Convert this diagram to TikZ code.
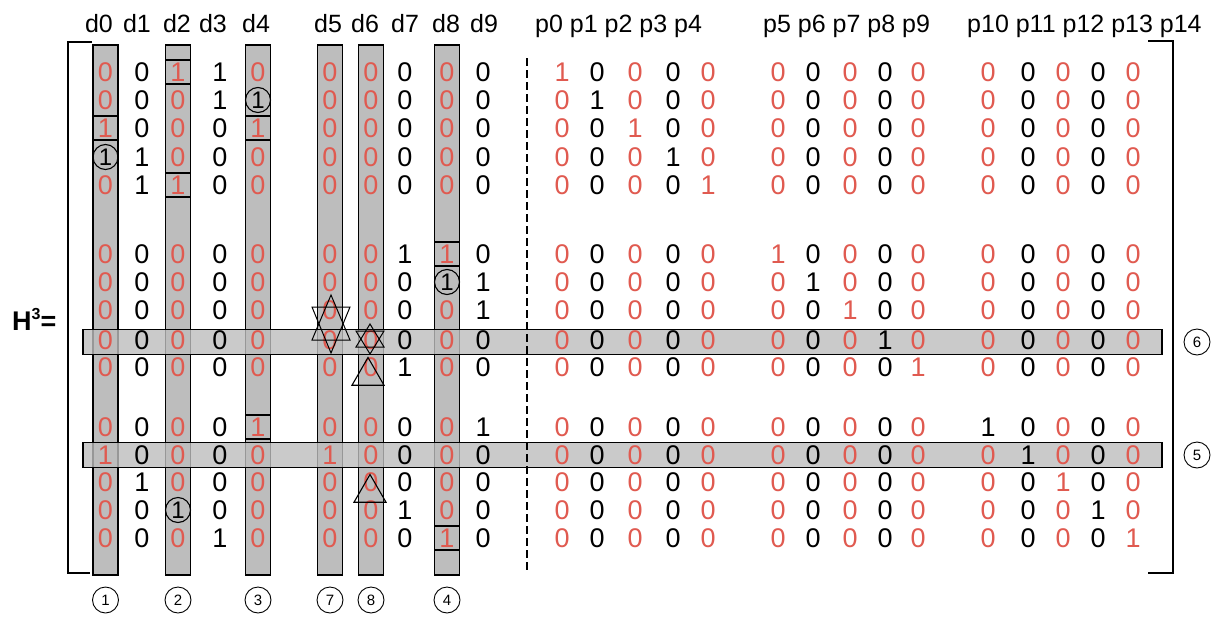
\documentclass[tikz,border=0pt]{standalone}
\usepackage{fontspec}
\setmainfont{Liberation Sans}
\usetikzlibrary{shapes.geometric}
\definecolor{rd}{HTML}{E05A50}
\definecolor{gcol}{HTML}{BDBDBD}
\tikzset{
  dig/.style={font=\fontsize{27}{27}\selectfont, inner sep=0pt},
  hdr/.style={font=\fontsize{25}{25}\selectfont, inner sep=0pt},
  colbar/.style={draw=black, line width=1.3pt, fill=gcol, minimum width=25pt, minimum height=530pt, inner sep=0pt},
  rowbar/.style={draw=black, line width=1.3pt, fill=gcol, fill opacity=0.8, minimum width=1079pt, minimum height=25pt, inner sep=0pt},
  markbox/.style={draw=black, line width=1.1pt, fill=gcol, minimum width=25pt, minimum height=24pt, inner sep=0pt, font=\fontsize{27}{27}\selectfont},
  circmark/.style={draw=black, circle, line width=1.1pt, minimum size=25pt, inner sep=0pt, font=\fontsize{24}{24}\selectfont},
  clabel/.style={draw=black, circle, line width=0.9pt, minimum size=26pt, inner sep=0pt, font=\fontsize{15}{15}\selectfont},
  bracketline/.style={line width=1.4pt},
  dashline/.style={line width=1.4pt, dash pattern=on 8pt off 4pt},
  starline/.style={draw=black, line width=1pt, line join=miter},
  trimark/.style={draw=black, regular polygon, regular polygon sides=3, line width=1.1pt, inner sep=0pt},
}
\begin{document}
\begin{tikzpicture}[x=1pt,y=-1pt]
\useasboundingbox (0,0) rectangle (1222,621);
% grey column bars and their labels
\foreach \x/\n in {105.5/1,178/2,258/3,330/7,371/8,447/4} {
  \node[colbar] (col\n) at (\x,310) {};
  \node[clabel] (lab\n) at (\x,600) {\n};
}
% grey row bars
\node[rowbar] (band6) at (622.5,342) {};
\node[rowbar] (band5) at (622.5,455) {};
\node[clabel] (lab6) at (1197,342) {6};
\node[clabel] (lab5) at (1197,455) {5};
% brackets
\coordinate (lt) at (92,42); \coordinate (ltc) at (68,42);
\coordinate (lbc) at (68,573); \coordinate (lb) at (90,573);
\draw[bracketline] (lt) -- (ltc) -- (lbc) -- (lb);
\coordinate (rt) at (1148,41); \coordinate (rtc) at (1173,41);
\coordinate (rbc) at (1173,573); \coordinate (rb) at (1148,573);
\draw[bracketline] (rt) -- (rtc) -- (rbc) -- (rb);
% dashed separator
\coordinate (dtop) at (527,58); \coordinate (dbot) at (527,570);
\draw[dashline] (dtop) -- (dbot);
% H^3 =
\node[anchor=base west, inner sep=0pt, font=\fontsize{27}{27}\selectfont\bfseries] (hlabel) at (12,330) {H\raisebox{11pt}{\fontsize{16}{16}\selectfont 3}=};
% headers
\foreach \x/\t in {99/d0,137/d1,177/d2,213/d3,256/d4,328/d5,365/d6,405/d7,446/d8,484/d9} {
  \node[hdr, anchor=base] (h\t) at (\x,32) {\t};
}
\node[hdr, anchor=base west] (hpa) at (535,32) {p0 p1 p2 p3 p4};
\node[hdr, anchor=base west] (hpb) at (763,32) {p5 p6 p7 p8 p9};
\node[hdr, anchor=base west] (hpc) at (967,32) {p10 p11 p12 p13 p14};
% matrix entries: 0,1 normal; 2 circled one; 3 boxed one; 4 black one
\foreach \x/\cc/\vals [count=\c] in {
 105.5/rd/{0,0,3,2,0,0,0,0,0,0,0,1,0,0,0},
 142/black/{0,0,0,1,1,0,0,0,0,0,0,0,1,0,0},
 178/rd/{3,0,0,0,3,0,0,0,0,0,0,0,0,2,0},
 220/black/{1,1,0,0,0,0,0,0,0,0,0,0,0,0,1},
 258/rd/{0,2,3,0,0,0,0,0,0,0,3,0,0,0,0},
 330/rd/{0,0,0,0,0,0,0,0,0,0,0,1,0,0,0},
 371/rd/{0,0,0,0,0,0,0,0,0,0,0,0,0,0,0},
 405/black/{0,0,0,0,0,1,0,0,0,1,0,0,0,1,0},
 447/rd/{0,0,0,0,0,3,2,0,0,0,0,0,0,0,3},
 483/black/{0,0,0,0,0,0,1,1,0,0,1,0,0,0,0},
 562/rd/{1,0,0,0,0,0,0,0,0,0,0,0,0,0,0},
 597/black/{0,1,0,0,0,0,0,0,0,0,0,0,0,0,0},
 635/rd/{0,0,1,0,0,0,0,0,0,0,0,0,0,0,0},
 673/black/{0,0,0,1,0,0,0,0,0,0,0,0,0,0,0},
 708/rd/{0,0,0,0,1,0,0,0,0,0,0,0,0,0,0},
 778/rd/{0,0,0,0,0,1,0,0,0,0,0,0,0,0,0},
 813/black/{0,0,0,0,0,0,1,0,0,0,0,0,0,0,0},
 850/rd/{0,0,0,0,0,0,0,1,0,0,0,0,0,0,0},
 885/black/{0,0,0,0,0,0,0,0,1,0,0,0,0,0,0},
 918/rd/{0,0,0,0,0,0,0,0,0,1,0,0,0,0,0},
 988/rd/{0,0,0,0,0,0,0,0,0,0,4,0,0,0,0},
 1028/black/{0,0,0,0,0,0,0,0,0,0,0,1,0,0,0},
 1063/rd/{0,0,0,0,0,0,0,0,0,0,0,0,1,0,0},
 1098/black/{0,0,0,0,0,0,0,0,0,0,0,0,0,1,0},
 1133/rd/{0,0,0,0,0,0,0,0,0,0,0,0,0,0,1}} {
  \foreach \v [count=\r] in \vals {
    \pgfmathsetmacro{\yy}{{72,100,128,157,185,254,282,310,340,367,427,455,482,510,538}[\r-1]}
    \ifnum\v=0 \node[dig, text=\cc] (e\c-\r) at (\x,\yy) {0};\fi
    \ifnum\v=1 \node[dig, text=\cc] (e\c-\r) at (\x,\yy) {1};\fi
    \ifnum\v=2 \node[circmark] (e\c-\r) at (\x,\yy) {1};\fi
    \ifnum\v=3 \node[markbox, text=rd] (e\c-\r) at (\x,\yy) {1};\fi
    \ifnum\v=4 \node[dig, text=black] (e\c-\r) at (\x,\yy) {1};\fi
  }
}
% star marks (two overlapping triangles each)
\draw[starline] (331,295) -- (350,340) -- (312,340) -- cycle;
\draw[starline] (331,353) -- (350,307) -- (312,307) -- cycle;
\draw[starline] (370,324) -- (384,347) -- (356,347) -- cycle;
\draw[starline] (370,354) -- (384,331) -- (356,331) -- cycle;
% triangle marks
\node[trimark, minimum size=37pt] (tri1) at (368,376) {};
\node[trimark, minimum size=37pt] (tri2) at (370,493) {};
\end{tikzpicture}
\end{document}
